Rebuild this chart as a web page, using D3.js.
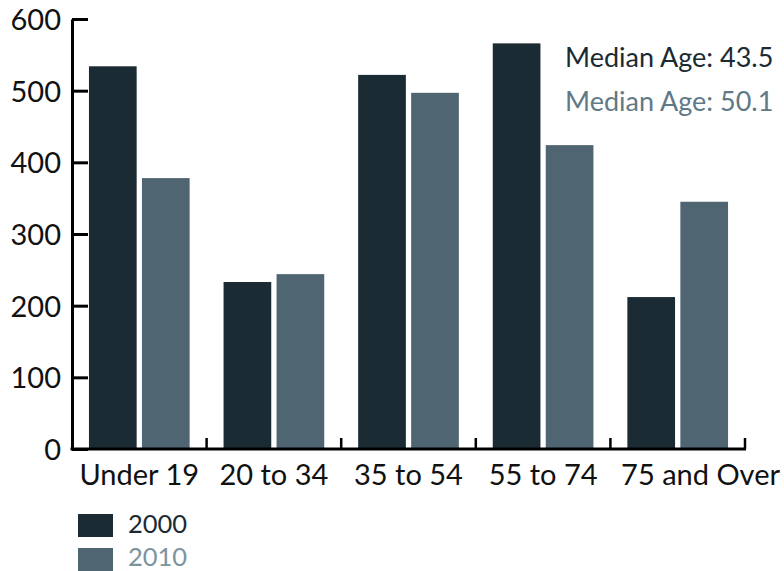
<!DOCTYPE html>
<html>
<head>
<meta charset="utf-8">
<script src="https://cdn.jsdelivr.net/npm/d3@7"></script>
<style>
  html, body { margin: 0; padding: 0; background: #fff; }
  svg { display: block; font-family: Lato, "Open Sans", sans-serif; }
</style>
</head>
<body>
<svg id="chart" width="784" height="571"></svg>
<script>
// Population by age group, 2000 vs 2010
const categories = ["Under 19", "20 to 34", "35 to 54", "55 to 74", "75 and Over"];
const seriesNames = ["2000", "2010"];
const values2000 = [534, 233, 522, 566, 212];
const values2010 = [378, 244, 497, 424, 345];
const yTicks = [0, 100, 200, 300, 400, 500, 600];
const notes = ["Median Age: 43.5", "Median Age: 50.1"];

const colors = ["#1b2b33", "#4f6672"];
const textColors = ["#1b2b33", "#5f7987"];

const W = 784;
const svg = d3.select("#chart");
const plotLeft = 72, plotRight = 745, plotTop = 19, plotBottom = 449;

const x = d3.scaleBand().domain(categories).range([plotLeft, plotRight]).paddingInner(0).paddingOuter(0);
const xs = d3.scaleBand().domain(seriesNames).range([0, x.bandwidth()]).paddingInner(0.1).paddingOuter(0.32);
const y = d3.scaleLinear().domain([0, 600]).range([plotBottom, plotTop]);

const rows = categories.map((c, i) => ({ c, vals: [values2000[i], values2010[i]] }));

// bars
svg.append("g").selectAll("g").data(rows).join("g")
  .attr("transform", d => `translate(${x(d.c)},0)`)
  .selectAll("rect").data(d => d.vals.map((v, k) => ({ v, k })))
  .join("rect")
  .attr("x", d => xs(seriesNames[d.k]))
  .attr("width", xs.bandwidth())
  .attr("y", d => y(d.v))
  .attr("height", d => y(0) - y(d.v))
  .attr("fill", d => colors[d.k]);

// y axis: ticks point inward
const yAxis = svg.append("g").attr("transform", `translate(${plotLeft},0)`)
  .call(d3.axisRight(y).tickValues(yTicks).tickSize(16).tickSizeOuter(0).tickFormat(d3.format("d")));
yAxis.select(".domain").attr("stroke", "#000").attr("stroke-width", 3);
yAxis.selectAll(".tick line").attr("stroke", "#000").attr("stroke-width", 3);
yAxis.selectAll(".tick text")
  .attr("x", -11).attr("text-anchor", "end").attr("dy", "0.36em")
  .attr("font-size", 29).attr("fill", "#111").attr("font-family", "Lato, sans-serif");

// x axis with boundary ticks pointing up
const xAxis = svg.append("g").attr("transform", `translate(0,${plotBottom})`);
xAxis.append("line").attr("x1", plotLeft - 1.5).attr("x2", plotRight + 1).attr("y1", 0).attr("y2", 0)
  .attr("stroke", "#000").attr("stroke-width", 3);
const bounds = categories.map(c => x(c) + x.bandwidth());
xAxis.selectAll("line.b").data(bounds).join("line").attr("class", "b")
  .attr("x1", d => d).attr("x2", d => d).attr("y1", 0).attr("y2", -11)
  .attr("stroke", "#000").attr("stroke-width", 2.5);
xAxis.selectAll("text").data(categories).join("text")
  .attr("x", (d, i) => i === categories.length - 1 ? W - 4 : x(d) + x.bandwidth() / 2)
  .attr("y", 36)
  .attr("text-anchor", (d, i) => i === categories.length - 1 ? "end" : "middle")
  .attr("font-size", 29)
  .attr("fill", "#111")
  .text(d => d);

// median age notes
svg.selectAll("text.note").data(notes).join("text").attr("class", "note")
  .attr("x", 565).attr("y", (d, i) => 67 + i * 44)
  .attr("font-size", 27)
  .attr("fill", (d, i) => textColors[i])
  .text(d => d);

// legend
const legend = svg.append("g");
seriesNames.forEach((s, i) => {
  legend.append("rect").attr("x", 78).attr("y", 514 + i * 34).attr("width", 35).attr("height", 23)
    .attr("fill", colors[i]);
  legend.append("text").attr("x", 128).attr("y", 533 + i * 33)
    .attr("font-size", 25.5)
    .attr("fill", i === 0 ? "#1b2b33" : "#7d939e")
    .text(s);
});
</script>
</body>
</html>
